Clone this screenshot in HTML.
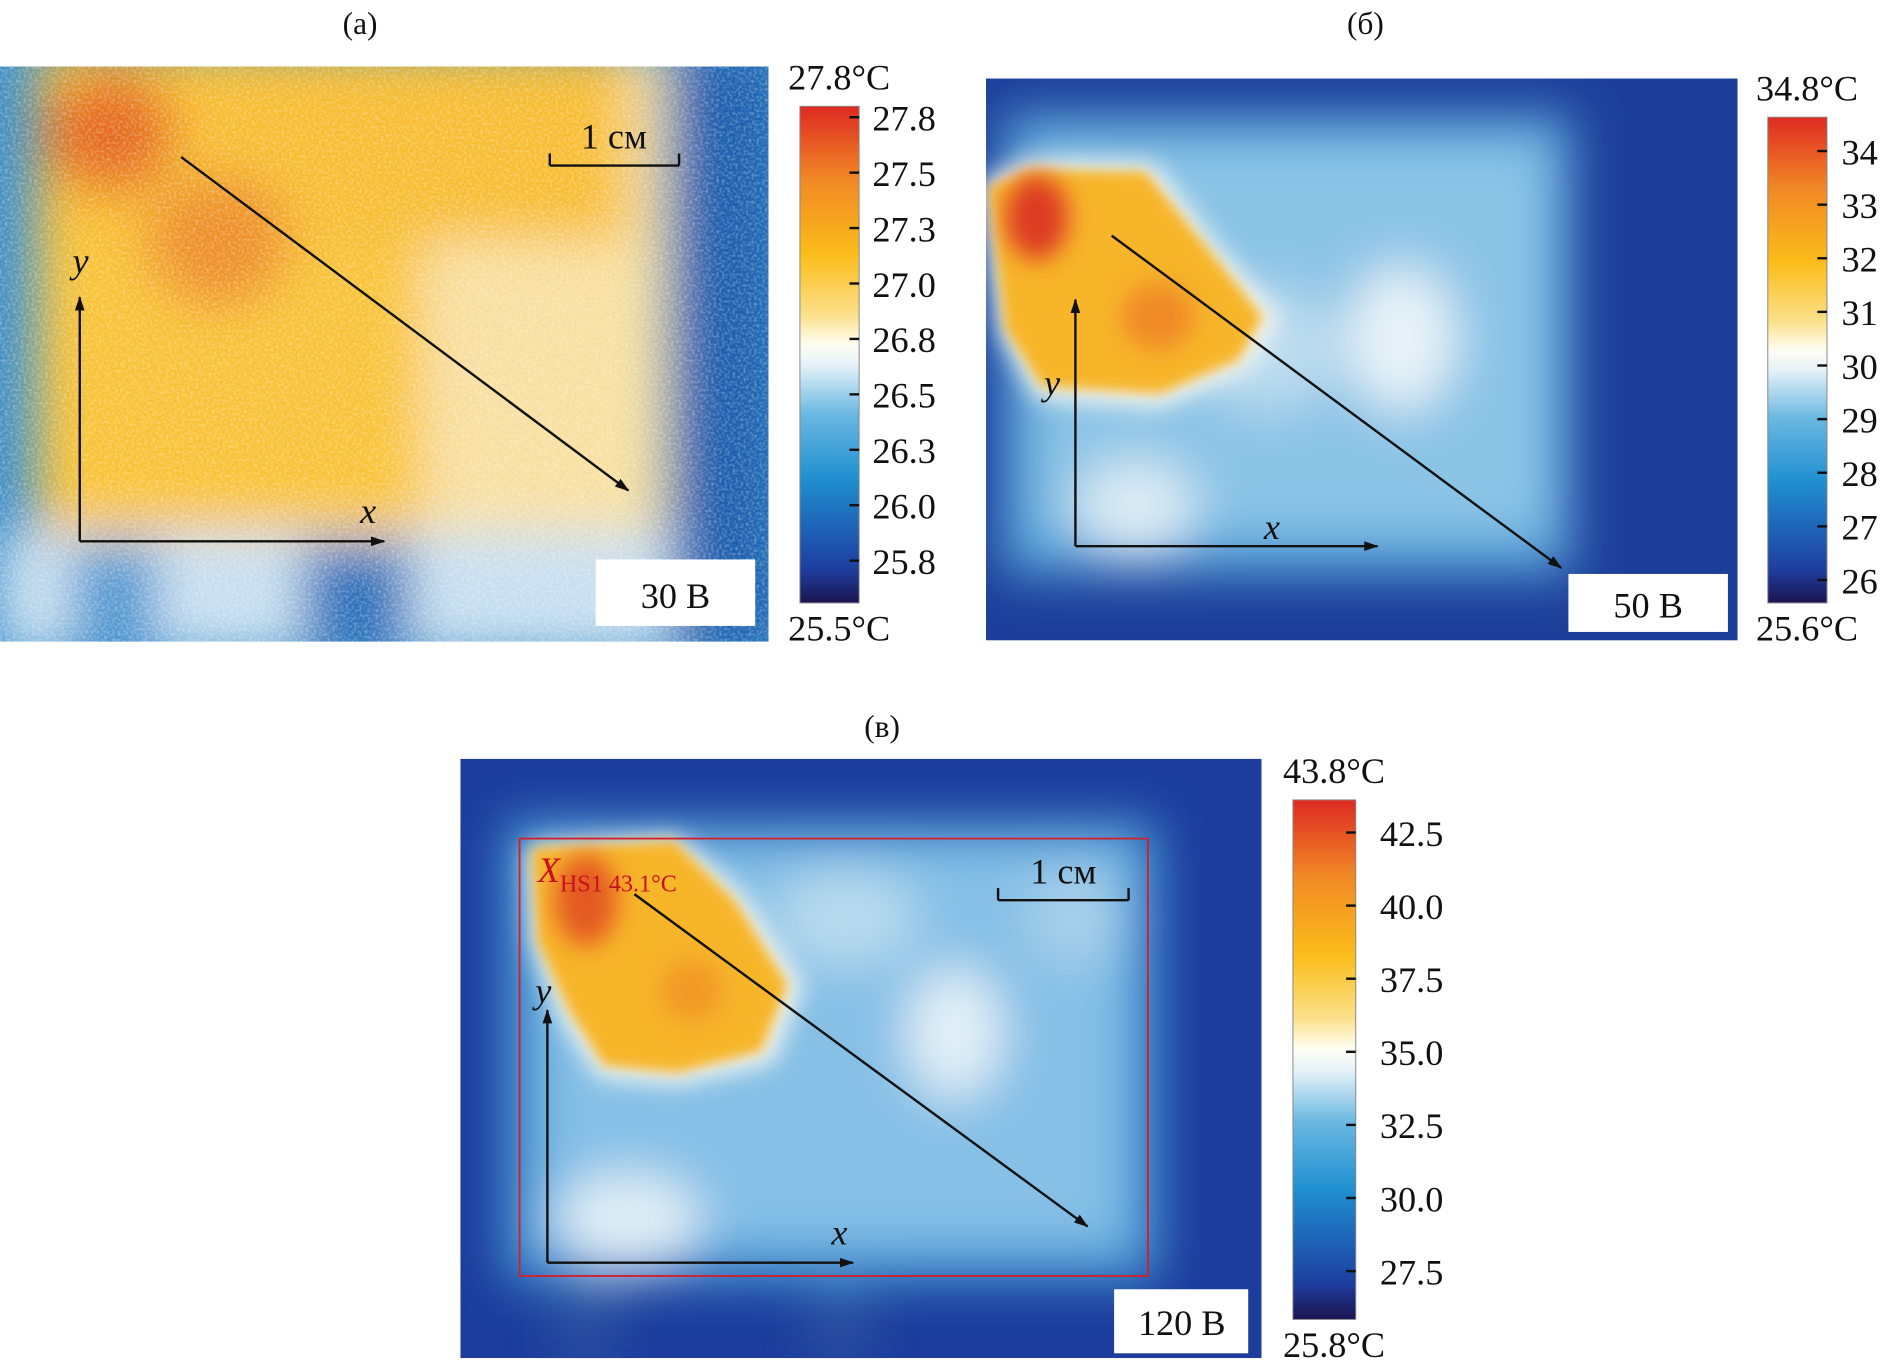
<!DOCTYPE html>
<html><head><meta charset="utf-8">
<style>
html,body{margin:0;padding:0;background:#fff;}
svg{display:block;}
text{font-family:"Liberation Serif",serif;fill:#111;}
</style></head>
<body>
<svg id="fig" width="1885" height="1369" viewBox="0 0 1560 1133" preserveAspectRatio="none" xmlns="http://www.w3.org/2000/svg">
<defs>
  <linearGradient id="cbar" x1="0" y1="1" x2="0" y2="0">
    <stop offset="0" stop-color="#1b1450"/>
    <stop offset="0.07" stop-color="#1e3fa0"/>
    <stop offset="0.25" stop-color="#1f8fd0"/>
    <stop offset="0.38" stop-color="#6ab8e2"/>
    <stop offset="0.48" stop-color="#e6f2f8"/>
    <stop offset="0.52" stop-color="#fffef5"/>
    <stop offset="0.58" stop-color="#fbe08a"/>
    <stop offset="0.7" stop-color="#fbbd1a"/>
    <stop offset="0.85" stop-color="#f28a25"/>
    <stop offset="1" stop-color="#de2a22"/>
  </linearGradient>
  <filter id="b20" x="-50%" y="-50%" width="200%" height="200%"><feGaussianBlur stdDeviation="20"/></filter>
  <filter id="b10" x="-50%" y="-50%" width="200%" height="200%"><feGaussianBlur stdDeviation="10"/></filter>
  <filter id="b5" x="-50%" y="-50%" width="200%" height="200%"><feGaussianBlur stdDeviation="5"/></filter>
  <filter id="noise"><feTurbulence type="fractalNoise" baseFrequency="0.45" numOctaves="1" seed="3"/><feColorMatrix type="matrix" values="0 0 0 0 1  0 0 0 0 1  0 0 0 0 1  0 0 0 -2.2 1.3"/></filter>
  <marker id="arr" markerWidth="12" markerHeight="8" refX="11" refY="4" orient="auto" markerUnits="userSpaceOnUse"><path d="M0,0 L12,4 L0,8 z" fill="#111"/></marker>
  <clipPath id="clipA"><rect x="0" y="55" width="636" height="476"/></clipPath>
  <clipPath id="clipB"><rect x="816" y="65" width="622" height="465"/></clipPath>
  <clipPath id="clipC"><rect x="381" y="628" width="663" height="496"/></clipPath>
</defs>

<text x="298" y="28" font-size="26" text-anchor="middle">(а)</text>
<text x="1130" y="28" font-size="26" text-anchor="middle">(б)</text>
<text x="730" y="610" font-size="26" text-anchor="middle">(в)</text>

<g clip-path="url(#clipA)">
  <rect x="0" y="55" width="636" height="476" fill="#3a8fcc"/>
  <g filter="url(#b20)">
    <rect x="30" y="40" width="520" height="420" fill="#f8e0a0"/>
    <rect x="30" y="40" width="320" height="410" fill="#f9c338"/>
    <rect x="40" y="40" width="480" height="160" fill="#f8bd30"/>
    <rect x="0" y="440" width="636" height="100" fill="#c8dff0"/>
    <rect x="60" y="450" width="70" height="90" fill="#4d96d0"/>
    <rect x="250" y="450" width="90" height="90" fill="#2a6fba"/>
    <rect x="555" y="40" width="90" height="500" fill="#1f5fae"/>
    <ellipse cx="90" cy="110" rx="55" ry="50" fill="#e56a24"/>
    <ellipse cx="180" cy="200" rx="60" ry="55" fill="#ee8f2a"/>
  </g>
  <rect x="0" y="55" width="636" height="476" filter="url(#noise)" opacity="0.35"/>
</g>
<rect x="493" y="463" width="132" height="55" fill="#fff"/>
<text x="559" y="503" font-size="30" text-anchor="middle">30 В</text>
<line x1="455" y1="137" x2="562" y2="137" stroke="#111" stroke-width="2"/>
<line x1="455" y1="127" x2="455" y2="137" stroke="#111" stroke-width="2"/>
<line x1="562" y1="127" x2="562" y2="137" stroke="#111" stroke-width="2"/>
<text x="508" y="123" font-size="30" text-anchor="middle">1 см</text>
<line x1="150" y1="130" x2="520" y2="406" stroke="#111" stroke-width="2" marker-end="url(#arr)"/>
<line x1="66" y1="448" x2="66" y2="246" stroke="#111" stroke-width="2" marker-end="url(#arr)"/>
<line x1="66" y1="448" x2="318" y2="448" stroke="#111" stroke-width="2" marker-end="url(#arr)"/>
<text x="60" y="226" font-size="30" font-style="italic">y</text>
<text x="298" y="433" font-size="30" font-style="italic">x</text>

<g clip-path="url(#clipB)">
  <rect x="816" y="65" width="622" height="465" fill="#1d3f9a"/>
  <g filter="url(#b20)">
    <rect x="830" y="95" width="470" height="380" fill="#5aa8dc"/>
    <rect x="860" y="120" width="420" height="320" fill="#8cc4e6"/>
    <ellipse cx="1160" cy="280" rx="45" ry="60" fill="#e8f3f8"/>
    <ellipse cx="940" cy="420" rx="50" ry="40" fill="#dcecf4"/>
    <ellipse cx="1050" cy="290" rx="60" ry="50" fill="#bcdcee"/>
  </g>
  <g filter="url(#b10)">
    <polygon points="812,150 850,132 955,135 1005,200 1060,262 1035,305 960,338 858,330 828,278" fill="#f3f6f2"/>
  </g>
  <g filter="url(#b5)">
    <polygon points="818,155 852,140 948,142 995,200 1045,262 1025,298 960,326 862,320 832,272" fill="#f7b52b"/>
  </g>
  <g filter="url(#b10)">
    <ellipse cx="858" cy="180" rx="26" ry="35" fill="#dd3a20"/>
    <ellipse cx="958" cy="262" rx="30" ry="28" fill="#f08a28"/>
  </g>
</g>
<rect x="1298" y="475" width="132" height="48" fill="#fff"/>
<text x="1364" y="511" font-size="30" text-anchor="middle">50 В</text>
<line x1="920" y1="195" x2="1292" y2="470" stroke="#111" stroke-width="2" marker-end="url(#arr)"/>
<line x1="890" y1="452" x2="890" y2="248" stroke="#111" stroke-width="2" marker-end="url(#arr)"/>
<line x1="890" y1="452" x2="1140" y2="452" stroke="#111" stroke-width="2" marker-end="url(#arr)"/>
<text x="864" y="327" font-size="30" font-style="italic">y</text>
<text x="1046" y="446" font-size="30" font-style="italic">x</text>

<g clip-path="url(#clipC)">
  <rect x="381" y="628" width="663" height="496" fill="#1c3d9c"/>
  <g filter="url(#b20)">
    <rect x="418" y="680" width="540" height="380" fill="#4a9ed8"/>
    <rect x="450" y="700" width="480" height="330" fill="#86c0e6"/>
    <ellipse cx="790" cy="855" rx="40" ry="55" fill="#e3f0f7"/>
    <ellipse cx="520" cy="1010" rx="60" ry="40" fill="#e0eef6"/>
    <ellipse cx="700" cy="760" rx="60" ry="40" fill="#b8daee"/>
    <ellipse cx="890" cy="760" rx="40" ry="40" fill="#a8d0ea"/>
    <rect x="460" y="1070" width="50" height="60" fill="#2a4fa0"/>
    <rect x="670" y="1070" width="50" height="60" fill="#2a4fa0"/>
  </g>
  <g filter="url(#b10)">
    <polygon points="436,700 560,692 615,740 665,815 640,880 560,898 495,892 462,840 440,780" fill="#f3f6f2"/>
  </g>
  <g filter="url(#b5)">
    <polygon points="440,702 558,696 608,745 652,815 630,870 560,888 500,882 470,835 445,780" fill="#f7b52b"/>
  </g>
  <g filter="url(#b10)">
    <ellipse cx="485" cy="745" rx="26" ry="38" fill="#e45a22"/>
    <ellipse cx="572" cy="820" rx="26" ry="26" fill="#f29a28"/>
  </g>
</g>
<rect x="430" y="694" width="520" height="362" fill="none" stroke="#d0202a" stroke-width="1.5"/>
<rect x="922" y="1067" width="111" height="53" fill="#fff"/>
<text x="978" y="1105" font-size="30" text-anchor="middle">120 В</text>
<text x="445" y="730" font-size="30" font-style="italic" fill="#c8101e" style="fill:#c8101e">X<tspan font-size="20" font-style="normal" dy="8" style="fill:#c8101e">HS1 43.1°C</tspan></text>
<line x1="826" y1="745" x2="934" y2="745" stroke="#111" stroke-width="2"/>
<line x1="826" y1="735" x2="826" y2="745" stroke="#111" stroke-width="2"/>
<line x1="934" y1="735" x2="934" y2="745" stroke="#111" stroke-width="2"/>
<text x="880" y="731" font-size="30" text-anchor="middle">1 см</text>
<line x1="525" y1="740" x2="900" y2="1015" stroke="#111" stroke-width="2" marker-end="url(#arr)"/>
<line x1="453" y1="1045" x2="453" y2="836" stroke="#111" stroke-width="2" marker-end="url(#arr)"/>
<line x1="453" y1="1045" x2="706" y2="1045" stroke="#111" stroke-width="2" marker-end="url(#arr)"/>
<text x="443" y="830" font-size="30" font-style="italic">y</text>
<text x="688" y="1030" font-size="30" font-style="italic">x</text>

<g id="colorbars"></g>
</svg>
<script>
var barATicks = ["27.8","27.5","27.3","27.0","26.8","26.5","26.3","26.0","25.8"];
var barAValues = [27.8,27.55,27.3,27.05,26.8,26.55,26.3,26.05,25.8];
var barARange = [25.5,27.8];
var barBTicks = ["34","33","32","31","30","29","28","27","26"];
var barBValues = [34.5,33.5,32.5,31.5,30.5,29.5,28.5,27.5,26.5];
var barBRange = [25.6,34.8];
var barCTicks = ["42.5","40.0","37.5","35.0","32.5","30.0","27.5"];
var barCValues = [42.5,40.0,37.5,35.0,32.5,30.0,27.5];
var barCRange = [25.8,43.8];

var NS = "http://www.w3.org/2000/svg";
var root = document.getElementById("colorbars");
function mk(tag, attrs){var e=document.createElementNS(NS,tag);for(var k in attrs)e.setAttribute(k,attrs[k]);return e;}
function drawBar(id, x, w, yTop, yBot, vmin, vmax, yTopTick, yBotTick, tMin, tMax, labels, values, labelX){
  var g = mk("g",{});
  
  
  g.appendChild(mk("rect",{x:x,y:yTop,width:w,height:yBot-yTop,fill:"url(#cbar)",stroke:"#888","stroke-width":"0.8"}));
  function yOf(v){return yTopTick + (tMax - v)/(tMax - tMin)*(yBotTick - yTopTick);}
  for (var i=0;i<labels.length;i++){
    var y = yOf(values[i]);
    var t = mk("line",{x1:x+w-8,x2:x+w,y1:y,y2:y,stroke:"#111","stroke-width":"2"});
    
    
    g.appendChild(t);
    var tx = mk("text",{x:labelX,y:y+11,"font-size":"30"});
    tx.textContent = labels[i];
    
    
    g.appendChild(tx);
  }
  var top = mk("text",{x:x+w/2+8,y:yTop-14,"font-size":"30","text-anchor":"middle"});
  top.textContent = vmax.toFixed(1)+"°C";
  
  
  g.appendChild(top);
  var bot = mk("text",{x:x+w/2+8,y:yBot+31,"font-size":"30","text-anchor":"middle"});
  bot.textContent = vmin.toFixed(1)+"°C";
  
  
  g.appendChild(bot);
  root.appendChild(g);
}
drawBar("a", 662, 49, 88, 499, barARange[0], barARange[1], 97, 464, 25.8, 27.8, barATicks, barAValues, 722);
drawBar("b", 1463, 49, 97, 499, barBRange[0], barBRange[1], 125, 480, 26.5, 34.5, barBTicks, barBValues, 1524);
drawBar("c", 1070, 52, 662, 1092, barCRange[0], barCRange[1], 689, 1052, 27.5, 42.5, barCTicks, barCValues, 1142);
</script>
</body></html>
